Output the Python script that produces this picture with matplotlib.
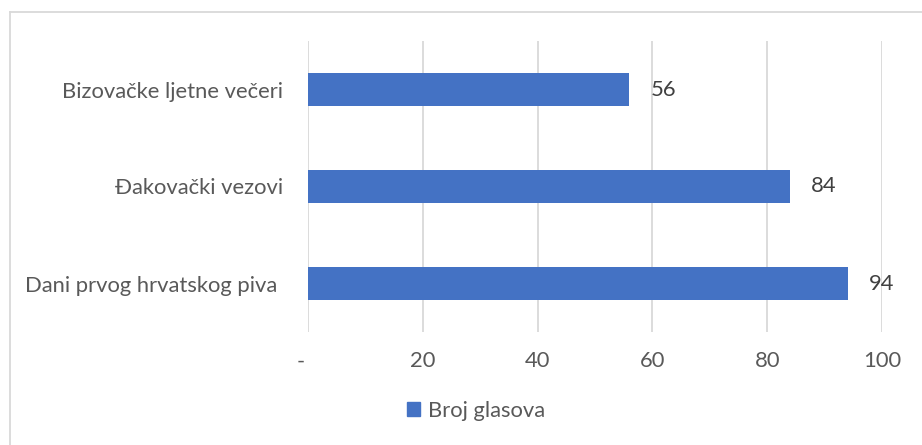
import matplotlib
matplotlib.use("Agg")
import matplotlib.pyplot as plt
import matplotlib.transforms as mtransforms
from matplotlib.patches import Patch
from matplotlib.lines import Line2D

categories = ["Dani prvog hrvatskog piva ", "Đakovački vezovi", "Bizovačke ljetne večeri"]
values = [94, 84, 56]
xticks = [0, 20, 40, 60, 80, 100]
xtick_labels = ["-", "20", "40", "60", "80", "100"]
series_name = "Broj glasova"

BAR = "#4472C4"
TXT = "#595959"
GRID = "#D9D9D9"
FONT = ["Lato", "DejaVu Sans"]
FS = 15.8

plt.rcParams["font.family"] = FONT

W, H = 922, 445
fig = plt.figure(figsize=(W / 100, H / 100), dpi=100)

def fx(px):
    return px / W

def fy(py):
    return 1 - py / H

ax_left, ax_right, ax_top, ax_bot = 308, 882, 41, 332
ax = fig.add_axes([fx(ax_left), fy(ax_bot), fx(ax_right - ax_left), (ax_bot - ax_top) / H])

y = list(range(len(categories)))
ax.barh(y, values, height=0.34, color=BAR, zorder=3)
ax.set_xlim(0, 100)
ax.set_ylim(-0.5, len(categories) - 0.5)
ax.set_xticks(xticks)
ax.set_xticklabels(xtick_labels)
ax.set_yticks(y)
ax.set_yticklabels(categories)
for s in ax.spines.values():
    s.set_visible(False)
ax.grid(axis="x", color=GRID, linewidth=1.3, zorder=0)
ax.tick_params(axis="both", length=0, labelsize=FS, colors=TXT)
ax.tick_params(axis="x", pad=14)
ax.tick_params(axis="y", pad=18)
# shift the "-" label slightly left like Excel accounting format
lbl = ax.get_xticklabels()[0]
lbl.set_transform(lbl.get_transform() + mtransforms.ScaledTranslation(-7 / 100, 0, fig.dpi_scale_trans))

for yi, v in zip(y, values):
    ax.annotate(str(v), (v, yi), xytext=(15, 0), textcoords="offset points",
                ha="left", va="center", fontsize=FS, color="#404040")

# chart area border (top and left only visible)
fig.add_artist(Line2D([fx(10), 1], [fy(12), fy(12)], color=GRID, linewidth=1.3, transform=fig.transFigure))
fig.add_artist(Line2D([fx(10), fx(10)], [fy(12), 0], color=GRID, linewidth=1.3, transform=fig.transFigure))

handles = [Patch(facecolor=BAR, edgecolor=BAR, label=series_name)]
fig.legend(handles=handles, loc="center", bbox_to_anchor=(fx(476), fy(411)), frameon=False,
           fontsize=FS, labelcolor=TXT, handlelength=0.6, handleheight=0.6, handletextpad=0.35)

fig.savefig("out.png", dpi=100)
